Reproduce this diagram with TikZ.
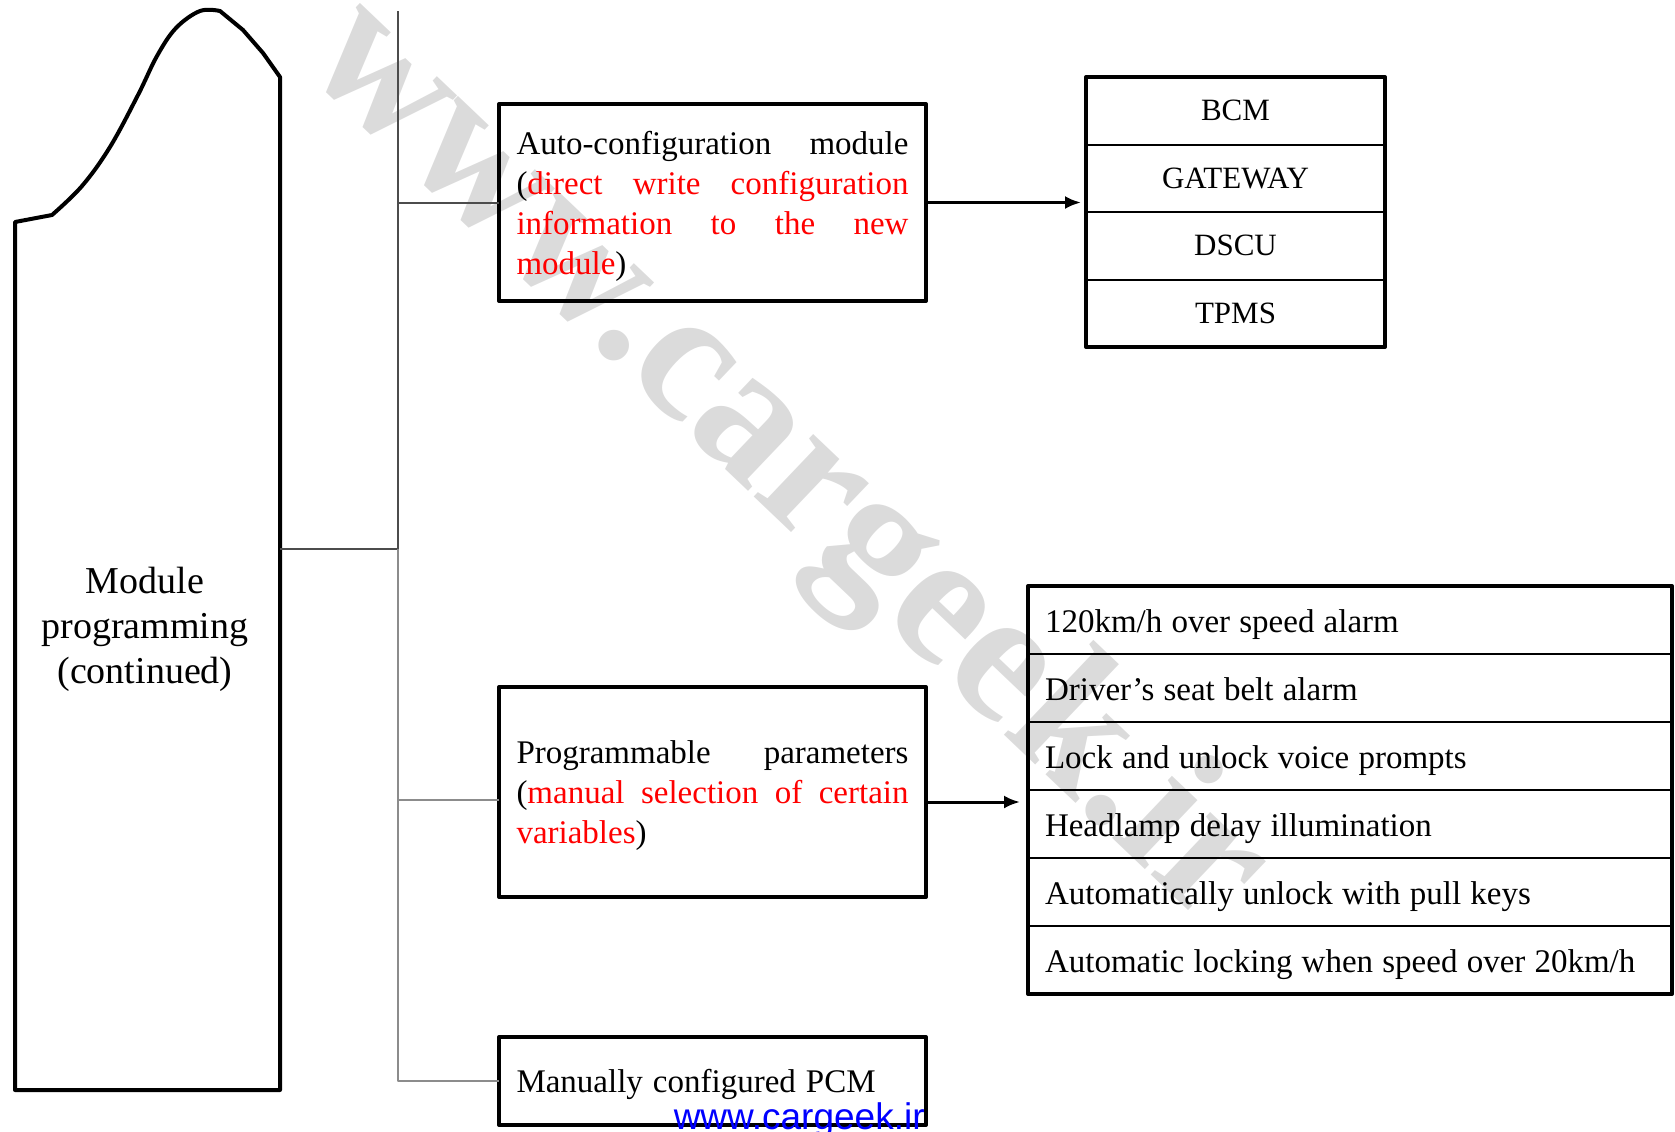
\documentclass[tikz,border=0pt]{standalone}
\usepackage{fontspec}
\setmainfont{Liberation Serif}
\newfontfamily\urlfont{Liberation Sans}
\usetikzlibrary{positioning,calc,arrows.meta}
\hbadness=10000

\begin{document}
\begin{tikzpicture}[x=0.5pt,y=-0.5pt,line join=round,
				box/.style={draw,rectangle,line width=2pt,outer sep=0pt,inner xsep=8.75pt,text width=196pt,align=justify,minimum height=#1,execute at end node={\endgraf\vspace{-4pt}},font=\fontsize{16.5}{20}\selectfont},
				cell/.style={draw,rectangle,line width=1pt,outer sep=0pt,inner sep=0pt,minimum width=149.5pt,minimum height=33.75pt,node distance=0pt,font=\fontsize{15.5}{18}\selectfont},
				item/.style={draw,rectangle,line width=1pt,outer sep=0pt,inner xsep=8.5pt,inner ysep=0pt,text width=305pt,minimum height=34pt,text height=13pt,text depth=1pt,node distance=0pt,align=left,execute at begin node={\spaceskip=4.6pt\relax},font=\fontsize{16.5}{20}\selectfont},
				tableframe/.style={line width=2pt},
				busline/.style={line width=1pt,black!70},
				arrowline/.style={line width=1.5pt,-{Latex[length=8pt,width=6.5pt]}}]
				\useasboundingbox (0,0) rectangle (1675,1131);
				\node[rotate=-43.6,text=black!14,font=\bfseries\fontsize{94}{94}\selectfont] (WM) at (785,465) {www.cargeek.ir};
				
				\draw[line width=2pt] (15,1090) -- (15,222) -- (52,215) -- plot[smooth,tension=0.6] coordinates {(52,215) (82,186) (110,147) (138,95) (157,56) (176,28) (200,11) (220,11)}
					-- (243,30) -- (263,53) -- (280,77) -- (280,1090) -- cycle;
				\node[align=center,font=\fontsize{19}{22.5}\selectfont] (MOD) at (145,629) {Module\\programming\\(continued)};
				
				\node[box=98.5pt] (AUTO) at (712.5,202.5) {Auto-configuration module\linebreak (\textcolor{red}{direct write configuration\linebreak information to the new\linebreak module})};
				\node[box=105pt]  (PROG) at (712.5,792)   {Programmable parameters\linebreak (\textcolor{red}{manual selection of certain\linebreak variables})};
				\node[box=44pt,align=left] (PCM) at (712.5,1081) {\spaceskip=5pt\relax Manually configured PCM};
				
				\node[cell] (BCM)  at (1235.5,110.75) {BCM};
				\node[cell] (GATE) [below=of BCM]  {GATEWAY};
				\node[cell] (DSCU) [below=of GATE] {DSCU};
				\node[cell] (TPMS) [below=of DSCU] {TPMS};
				\draw[tableframe] (BCM.north west) rectangle (TPMS.south east);
				
				\node[item] (SPEED) at (1350,620) {120km/h over speed alarm};
				\node[item] (BELT)  [below=of SPEED] {Driver's seat belt alarm};
				\node[item] (VOICE) [below=of BELT]  {Lock and unlock voice prompts};
				\node[item] (LAMP)  [below=of VOICE] {Headlamp delay illumination};
				\node[item] (KEYS)  [below=of LAMP]  {Automatically unlock with pull keys};
				\node[item] (LOCK)  [below=of KEYS]  {Automatic locking when speed over 20km/h};
				\draw[tableframe] (SPEED.north west) rectangle (LOCK.south east);
				
				\coordinate (TOP)   at (398,11);
				\coordinate (MID)   at (398,549);
				\coordinate (SHAPE) at (280,549);
				\coordinate (J2)    at (398,800);
				\draw[busline] (TOP) -- (MID);
				\draw[busline] (SHAPE) -- (MID);
				\draw[busline] (AUTO.west -| TOP) -- (AUTO.west);
				\draw[busline,black!45] (MID) -- (PCM.west -| TOP) -- (PCM.west);
				\draw[busline,black!45] (J2) -- (J2 -| PROG.west);
				
				\draw[arrowline] (AUTO.east) -- ([xshift=-2.5pt]AUTO.east -| BCM.west);
				\draw[arrowline] ([yshift=-5pt]PROG.east) -- ([yshift=-5pt,xshift=-4pt]PROG.east -| SPEED.west);
				
				\node[anchor=base east,inner sep=0pt,text=blue,font=\urlfont\fontsize{18.5}{20}\selectfont] (URL) at (925,1129) {www.cargeek.ir};
			\end{tikzpicture}
\end{document}
